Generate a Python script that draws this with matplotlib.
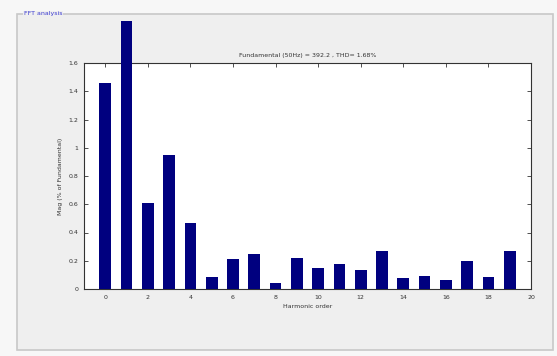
import matplotlib
matplotlib.use("Agg")
import matplotlib.pyplot as plt
from matplotlib.patches import Rectangle

harmonics = list(range(20))
magnitudes = [1.46, 1.90, 0.61, 0.95, 0.47, 0.085, 0.21, 0.25, 0.04, 0.22,
              0.15, 0.18, 0.135, 0.27, 0.08, 0.09, 0.065, 0.20, 0.085, 0.27]
x_ticks = list(range(0, 21, 2))
y_ticks = [0, 0.2, 0.4, 0.6, 0.8, 1.0, 1.2, 1.4, 1.6]
y_tick_labels = ["0", "0.2", "0.4", "0.6", "0.8", "1", "1.2", "1.4", "1.6"]
title_text = "Fundamental (50Hz) = 392.2 , THD= 1.68%"
panel_title = "FFT analysis"

W, H = 557, 356
fig = plt.figure(figsize=(W / 100, H / 100), dpi=100)
fig.patch.set_facecolor("#f7f7f7")

# panel background and frame
fig.patches.append(Rectangle((17 / W, 1 - 350 / H), (553 - 17) / W, (350 - 14) / H,
                             transform=fig.transFigure, facecolor="#efefef",
                             edgecolor="#c8c8c8", linewidth=1.2, zorder=-5))
fig.text(24 / W, 1 - 14 / H, panel_title, color="#3a3ad0", fontsize=4.5,
         ha="left", va="center", zorder=-4,
         bbox=dict(facecolor="#efefef", edgecolor="none", pad=0.5))

ax = fig.add_axes([84 / W, 1 - 289 / H, (531 - 84) / W, (289 - 63) / H])
ax.set_zorder(5)
ax.set_facecolor("white")
ax.bar(harmonics, magnitudes, width=0.55, color="#00007f", clip_on=False, zorder=3)
ax.set_xlim(-1, 20)
ax.set_ylim(0, 1.6)
ax.set_xticks(x_ticks)
ax.set_yticks(y_ticks)
ax.set_yticklabels(y_tick_labels)
ax.tick_params(direction="in", length=3, width=0.6, labelsize=4.5, colors="#333333",
               top=True, right=True, pad=4)
for s in ax.spines.values():
    s.set_linewidth(0.8)
    s.set_color("#333333")
ax.set_title(title_text, fontsize=4.5, color="#333333", pad=4)
ax.set_xlabel("Harmonic order", fontsize=4.5, color="#333333", labelpad=3)
ax.set_ylabel("Mag (% of Fundamental)", fontsize=4.5, color="#333333", labelpad=4)

fig.savefig("out.png", dpi=100, facecolor=fig.get_facecolor())
